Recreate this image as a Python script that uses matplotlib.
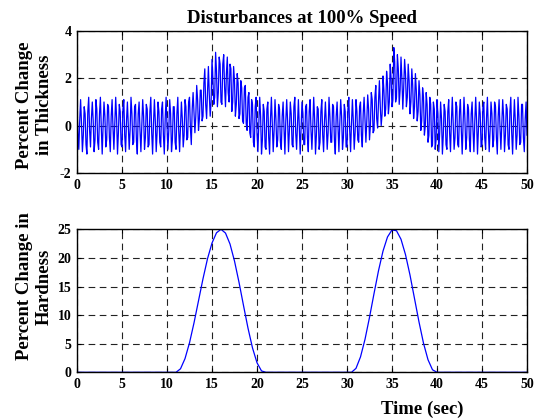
import matplotlib
matplotlib.use("Agg")
import matplotlib.pyplot as plt
import numpy as np

# ---- data ----
t_thick_step = 0.1
thickness = [
    0.9, -0.3, -1.0, 0.2, 1.1, 0.1, -1.1, -0.4, 0.8, 0.5,
    -0.8, -1.2, 0.6, 1.2, -0.2, -0.9, 0.3, 1.0, 0.2, -1.1,
    -0.6, 1.1, 0.7, -0.7, -1.0, 0.5, 1.2, -0.1, -1.2, 0.0,
    1.0, 0.4, -0.9, -0.6, 0.9, 0.8, -0.5, -1.1, 0.4, 1.1,
    -0.1, -1.0, 0.1, 1.2, 0.3, -1.2, -0.3, 0.9, 0.6, -0.8,
    -0.9, 0.7, 1.1, -0.4, -1.1, 0.2, 1.0, 0.0, -1.0, -0.2,
    1.2, 0.5, -0.8, -0.7, 0.8, 0.9, -0.6, -1.2, 0.5, 1.0,
    -0.2, -1.1, 0.0, 1.1, 0.4, -1.0, -0.5, 0.9, 0.7, -0.9,
    -0.8, 0.6, 1.2, -0.3, -1.2, 0.1, 1.1, 0.2, -1.1, -0.3,
    1.0, 0.6, -0.7, -0.9, 0.7, 1.0, -0.4, -1.2, 0.3, 1.2,
    0.0, -1.0, -0.2, 1.1, 0.5, -1.1, -0.6, 0.8, 0.8, -0.7,
    -1.0, 0.5, 1.2, -0.2, -1.1, 0.0, 1.0, 0.3, -0.9, -0.4,
    1.1, 0.8, -0.6, -0.5, 1.0, 1.2, -0.1, -0.8, 0.7, 1.4,
    0.5, -0.3, 0.4, 1.7, 1.1, -0.2, 0.3, 1.5, 1.5, 0.2,
    0.4, 1.8, 2.4, 0.9, 0.3, 1.4, 2.5, 1.3, 0.4, 1.0,
    2.8, 2.0, 0.9, 1.2, 3.1, 2.3, 0.8, 1.4, 2.9, 2.6,
    1.0, 0.9, 2.6, 3.0, 1.6, 0.8, 2.2, 2.9, 1.4, 1.0,
    2.6, 2.4, 0.6, 1.0, 2.5, 1.9, 0.4, 0.9, 2.2, 1.8,
    0.3, 0.5, 1.9, 1.6, 0.2, 0.1, 1.6, 1.7, 0.1, -0.2,
    1.2, 1.4, -0.3, -0.5, 1.1, 0.9, -0.7, -0.9, 0.8, 1.2,
    -0.3, -1.1, 0.1, 1.2, 0.4, -1.2, -0.6, 0.9, 0.6, -0.9,
    -1.0, 0.7, 1.0, -0.5, -1.2, 0.3, 1.2, 0.0, -1.1, -0.2,
    1.1, 0.3, -0.9, -0.6, 0.9, 0.7, -0.7, -1.0, 0.4, 1.0,
    -0.1, -1.2, 0.2, 1.1, 0.2, -1.1, -0.2, 1.0, 0.5, -0.8,
    -0.9, 0.8, 1.2, -0.3, -1.0, 0.1, 1.1, -0.1, -1.2, -0.1,
    1.0, 0.5, -0.8, -0.8, 0.8, 0.9, -0.5, -1.1, 0.6, 1.1,
    -0.2, -1.0, 0.0, 1.2, 0.3, -1.2, -0.4, 0.8, 0.7, -1.0,
    -0.7, 0.6, 1.1, -0.4, -1.1, 0.2, 1.0, 0.1, -1.0, -0.3,
    1.2, 0.4, -0.7, -0.7, 0.9, 0.8, -0.6, -1.2, 0.4, 1.0,
    0.0, -1.1, 0.1, 1.1, 0.4, -1.0, -0.5, 0.9, 0.6, -0.9,
    -0.9, 0.7, 1.2, -0.2, -1.1, 0.1, 1.1, 0.2, -1.0, -0.3,
    1.1, 0.6, -0.6, -0.7, 0.8, 1.0, -0.4, -0.9, 0.5, 1.2,
    0.3, -0.7, 0.2, 1.3, 0.7, -0.6, 0.0, 1.4, 1.1, -0.3,
    -0.2, 1.2, 1.7, 0.3, -0.1, 1.0, 1.9, 0.8, 0.0, 0.5,
    2.1, 1.5, 0.4, 0.7, 2.3, 1.8, 0.5, 1.0, 2.6, 2.0,
    0.8, 1.1, 3.3, 2.7, 1.0, 1.2, 3.0, 2.4, 0.9, 1.5,
    2.9, 2.0, 0.7, 1.6, 2.8, 2.2, 0.8, 1.2, 2.6, 1.9,
    0.5, 1.0, 2.4, 1.7, 0.3, 0.8, 2.2, 1.5, 0.2, 0.6,
    1.9, 1.3, -0.2, 0.2, 1.6, 1.2, -0.4, 0.0, 1.4, 0.9,
    -0.7, -0.4, 1.2, 0.9, -0.9, -0.8, 1.0, 0.7, -1.0, -0.6,
    1.1, 0.5, -1.1, -0.3, 1.0, 0.3, -1.2, -0.4, 0.9, 0.6,
    -0.8, -1.0, 0.6, 1.1, -0.3, -1.1, 0.2, 1.2, 0.1, -1.0,
    -0.5, 1.0, 0.8, -0.8, -0.9, 0.6, 1.1, -0.2, -1.2, 0.1,
    1.2, 0.3, -1.0, -0.5, 0.9, 0.7, -0.6, -1.1, 0.5, 1.0,
    -0.2, -1.1, 0.2, 1.2, 0.2, -1.2, -0.2, 1.0, 0.5, -0.9,
    -0.8, 0.8, 1.0, -0.5, -1.0, 0.3, 1.2, -0.1, -1.1, -0.2,
    1.0, 0.5, -0.9, -0.6, 1.0, 0.8, -0.5, -1.2, 0.4, 1.1,
    -0.1, -1.0, 0.0, 1.1, 0.4, -1.1, -0.4, 0.9, 0.7, -0.8,
    -1.0, 0.6, 1.2, -0.3, -1.2, 0.1, 1.1, 0.2, -1.0, -0.4,
    1.2, 0.4, -0.8, -0.7, 0.9, 0.9, -0.5, -1.1, 0.3, 1.0,
    -0.4,
]

t_hard_step = 0.5
hardness = (
    [0.0] * 22 +                                   # 0.0 .. 10.5
    [0.0, 0.61, 2.39, 5.15, 8.64, 12.5, 16.36, 19.85, 22.6, 24.39,   # 11.0 .. 15.5
     25.0, 24.34, 22.43, 19.45, 15.74, 11.68, 7.72, 4.26, 1.67, 0.24,  # 16.0 .. 20.5
     0.0] +                                         # 21.0
    [0.0] * 18 +                                   # 21.5 .. 30.0
    [0.0, 0.69, 2.69, 5.76, 9.6, 13.75, 17.76, 21.19, 23.66, 24.89,  # 30.5 .. 35.0
     24.75, 23.26, 20.57, 17.0, 12.9, 8.8, 5.09, 2.2, 0.44, 0.0] +  # 35.5 .. 40.0
    [0.0] * 20                                     # 40.5 .. 50.0
)

x_ticks = [0, 5, 10, 15, 20, 25, 30, 35, 40, 45, 50]
thick_yticks = [-2, 0, 2, 4]
hard_yticks = [0, 5, 10, 15, 20, 25]

title = "Disturbances at 100% Speed"
thick_label = "Percent Change\nin Thickness"
hard_label = "Percent Change in\nHardness"
x_label = "Time (sec)"

# ---- plot ----
plt.rcParams['font.family'] = ['Liberation Serif', 'DejaVu Serif']
plt.rcParams['font.weight'] = 'bold'

fig = plt.figure(figsize=(5.36, 4.19), dpi=100)
ax1 = fig.add_axes([77/536, 1-173/419, 450/536, 142/419])
ax2 = fig.add_axes([77/536, 1-372.3/419, 450/536, 143/419])

t1 = np.arange(len(thickness)) * t_thick_step
t2 = np.arange(len(hardness)) * t_hard_step

ax1.plot(t1, thickness, color='#0000ff', lw=0.9)
ax2.plot(t2, hardness, color='#0000ff', lw=0.9)

for ax, yt in ((ax1, thick_yticks), (ax2, hard_yticks)):
    ax.set_xlim(0, 50)
    ax.set_ylim(yt[0], yt[-1])
    ax.set_xticks(x_ticks)
    ax.set_yticks(yt)
    ax.set_xticklabels([str(v) for v in x_ticks], fontsize=10, fontweight='bold')
    ax.set_yticklabels([str(v) for v in yt], fontsize=10, fontweight='bold')
    ax.grid(True, color='#222222', linestyle=(0, (6, 4)), linewidth=0.8)
    ax.set_axisbelow(True)
    ax.tick_params(direction='in', length=3, width=0.8, pad=4, top=True, right=True)
    for s in ax.spines.values():
        s.set_linewidth(1.0)
        s.set_color('black')

ax1.set_title(title, fontsize=13.5, fontweight='bold', pad=6)
ax1.set_ylabel(thick_label, fontsize=13.5, fontweight='bold', linespacing=1.2)
ax2.set_ylabel(hard_label, fontsize=13.5, fontweight='bold', linespacing=1.2)
ax1.yaxis.set_label_coords(-0.054, 0.48)
ax2.yaxis.set_label_coords(-0.054, 0.6)
ax2.set_xlabel(x_label, fontsize=13.5, fontweight='bold')
ax2.xaxis.set_label_coords(0.767, -0.2)

fig.savefig("out.png", dpi=100)
